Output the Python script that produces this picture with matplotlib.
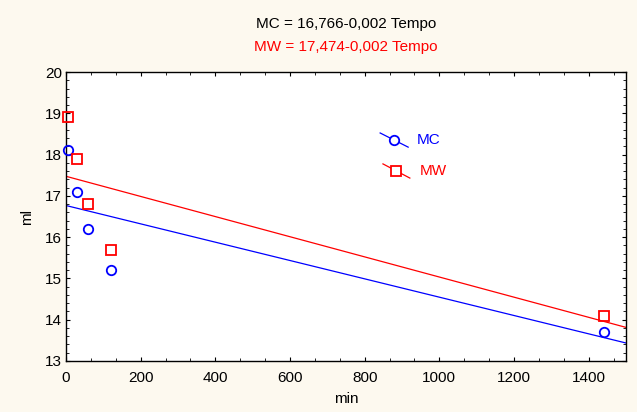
import matplotlib
matplotlib.use("Agg")
import matplotlib.pyplot as plt
from matplotlib.ticker import MultipleLocator, AutoMinorLocator

plt.rcParams['font.family'] = ['Liberation Sans', 'DejaVu Sans']

time_min = [5, 30, 60, 120, 1440]
mc_ml = [18.1, 17.1, 16.2, 15.2, 13.7]
mw_ml = [18.9, 17.9, 16.8, 15.7, 14.1]
series_names = ["MC", "MW"]
intercepts = [16.766, 17.474]
slopes = [-0.00222, -0.00244]
colors = ["#0000FF", "#FF0000"]
titles = ["MC = 16,766-0,002 Tempo", "MW = 17,474-0,002 Tempo"]

bg = "#FDF9EF"
fig = plt.figure(figsize=(6.37, 4.12), dpi=100, facecolor=bg)
ax = fig.add_axes([66/637, 1-361/412, 560/637, 289/412])
ax.set_facecolor("white")

ax.set_xlim(0, 1500)
ax.set_ylim(13, 20)

xs = [0, 1500]
for b, m, c in zip(intercepts, slopes, colors):
    ax.plot(xs, [b + m * x for x in xs], color=c, lw=0.9)

ax.plot(time_min, mc_ml, linestyle="none", marker="o", ms=6.8, mfc="none",
        mec=colors[0], mew=1.3, clip_on=False, zorder=5)
ax.plot(time_min, mw_ml, linestyle="none", marker="s", ms=7, mfc="none",
        mec=colors[1], mew=1.3, clip_on=False, zorder=5)

# legend drawn manually (slanted line samples)
leg = [((0.561, 0.789), (0.611, 0.740), (0.586, 0.765), 0.627, "o", 6.8),
       ((0.566, 0.682), (0.614, 0.633), (0.590, 0.657), 0.632, "s", 7)]
for (p0, p1, pm, tx, mk, ms), name, c in zip(leg, series_names, colors):
    ax.plot([p0[0], p1[0]], [p0[1], p1[1]], color=c, lw=0.9, transform=ax.transAxes)
    ax.plot([pm[0]], [pm[1]], marker=mk, ms=ms, mfc="white", mec=c, mew=1.3,
            transform=ax.transAxes, linestyle="none")
    ax.text(tx, pm[1], name, color=c, fontsize=11, va="center", ha="left",
            transform=ax.transAxes)

ax.xaxis.set_major_locator(MultipleLocator(200))
ax.xaxis.set_minor_locator(AutoMinorLocator(3))
ax.yaxis.set_major_locator(MultipleLocator(1))
ax.yaxis.set_minor_locator(AutoMinorLocator(5))
ax.tick_params(which="both", direction="in", top=True, right=True, labelsize=11)
ax.tick_params(which="major", length=3, width=0.8, pad=3)
ax.tick_params(which="minor", length=2, width=0.6)
ax.tick_params(axis="x", which="major", pad=7)
for s in ax.spines.values():
    s.set_linewidth(1.0)

ax.set_xlabel("min", fontsize=11, labelpad=5)
ax.set_ylabel("ml", fontsize=11, labelpad=8)

fig.text(346/637, 1-24/412, titles[0], color="black", fontsize=11, ha="center", va="center")
fig.text(346/637, 1-47/412, titles[1], color=colors[1], fontsize=11, ha="center", va="center")

fig.savefig("out.png", dpi=100, facecolor=bg)
